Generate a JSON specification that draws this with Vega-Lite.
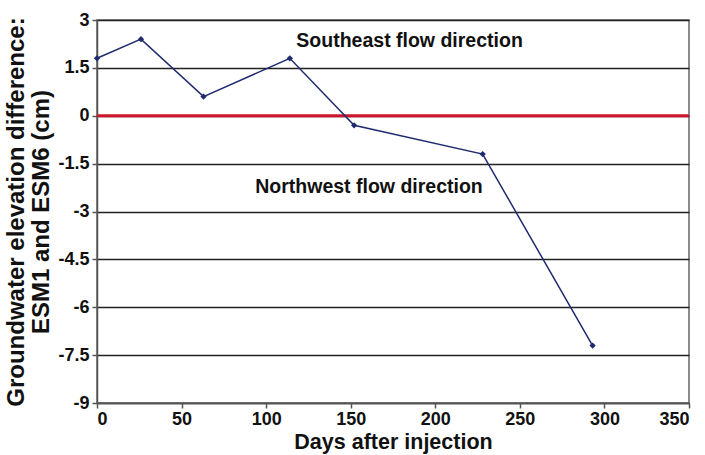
{
  "$schema": "https://vega.github.io/schema/vega-lite/v6.json",
  "autosize": "none",
  "width": 592,
  "height": 383,
  "padding": {"left": 97, "top": 20, "right": 16, "bottom": 52},
  "background": "white",
  "config": {
    "font": "Liberation Sans",
    "view": {"stroke": "#666666", "strokeWidth": 1.5}
  },
  "datasets": {
    "series": [
      {"day": 0, "diff": 1.8},
      {"day": 26, "diff": 2.4},
      {"day": 63, "diff": 0.6},
      {"day": 114, "diff": 1.8},
      {"day": 152, "diff": -0.3},
      {"day": 228, "diff": -1.2},
      {"day": 293, "diff": -7.2}
    ],
    "zero": [{"diff": 0}],
    "notes": [
      {"day": 184.8, "diff": 2.34, "label": "Southeast flow direction"},
      {"day": 160.8, "diff": -2.22, "label": "Northwest flow direction"}
    ]
  },
  "layer": [
    {
      "data": {"name": "zero"},
      "mark": {"type": "rule", "color": "#d0142c", "strokeWidth": 3},
      "encoding": {
        "y": {"field": "diff", "type": "quantitative", "scale": {"domain": [-9, 3]}}
      }
    },
    {
      "data": {"name": "series"},
      "mark": {
        "type": "line",
        "color": "#1f2b6e",
        "strokeWidth": 1.5,
        "point": {"shape": "diamond", "size": 40, "filled": true, "color": "#1f2b6e"}
      },
      "encoding": {
        "x": {
          "field": "day",
          "type": "quantitative",
          "scale": {"domain": [0, 350], "nice": false},
          "axis": {
            "values": [0, 50, 100, 150, 200, 250, 300, 350],
            "grid": false,
            "domainColor": "#555555",
            "domainWidth": 1.5,
            "tickColor": "#555555",
            "tickWidth": 1.5,
            "tickSize": 5,
            "labelFont": "Liberation Sans",
            "labelFontWeight": "bold",
            "labelFontSize": 18,
            "labelColor": "#111111",
            "labelPadding": 2,
            "title": "Days after injection",
            "titleFont": "Liberation Sans",
            "titleFontWeight": "bold",
            "titleFontSize": 21.5,
            "titleColor": "#111111",
            "titlePadding": 3
          }
        },
        "y": {
          "field": "diff",
          "type": "quantitative",
          "scale": {"domain": [-9, 3], "nice": false},
          "axis": {
            "values": [-9, -7.5, -6, -4.5, -3, -1.5, 0, 1.5, 3],
            "labelExpr": "toString(datum.value)",
            "grid": true,
            "gridColor": "#222222",
            "gridWidth": 1.5,
            "domainColor": "#555555",
            "domainWidth": 1.5,
            "tickColor": "#555555",
            "tickWidth": 1.5,
            "tickSize": 5,
            "labelFont": "Liberation Sans",
            "labelFontWeight": "bold",
            "labelFontSize": 18,
            "labelColor": "#111111",
            "labelPadding": 3,
            "title": ["Groundwater elevation difference:", "ESM1 and ESM6 (cm)"],
            "titleFont": "Liberation Sans",
            "titleFontWeight": "bold",
            "titleFontSize": 24,
            "titleLineHeight": 25,
            "titleColor": "#111111",
            "titlePadding": 4
          }
        }
      }
    },
    {
      "data": {"name": "notes"},
      "mark": {"type": "text", "font": "Liberation Sans", "fontWeight": "bold", "fontSize": 19.5, "color": "#111111", "align": "center", "baseline": "middle"},
      "encoding": {
        "x": {"field": "day", "type": "quantitative"},
        "y": {"field": "diff", "type": "quantitative"},
        "text": {"field": "label"}
      }
    }
  ]
}
